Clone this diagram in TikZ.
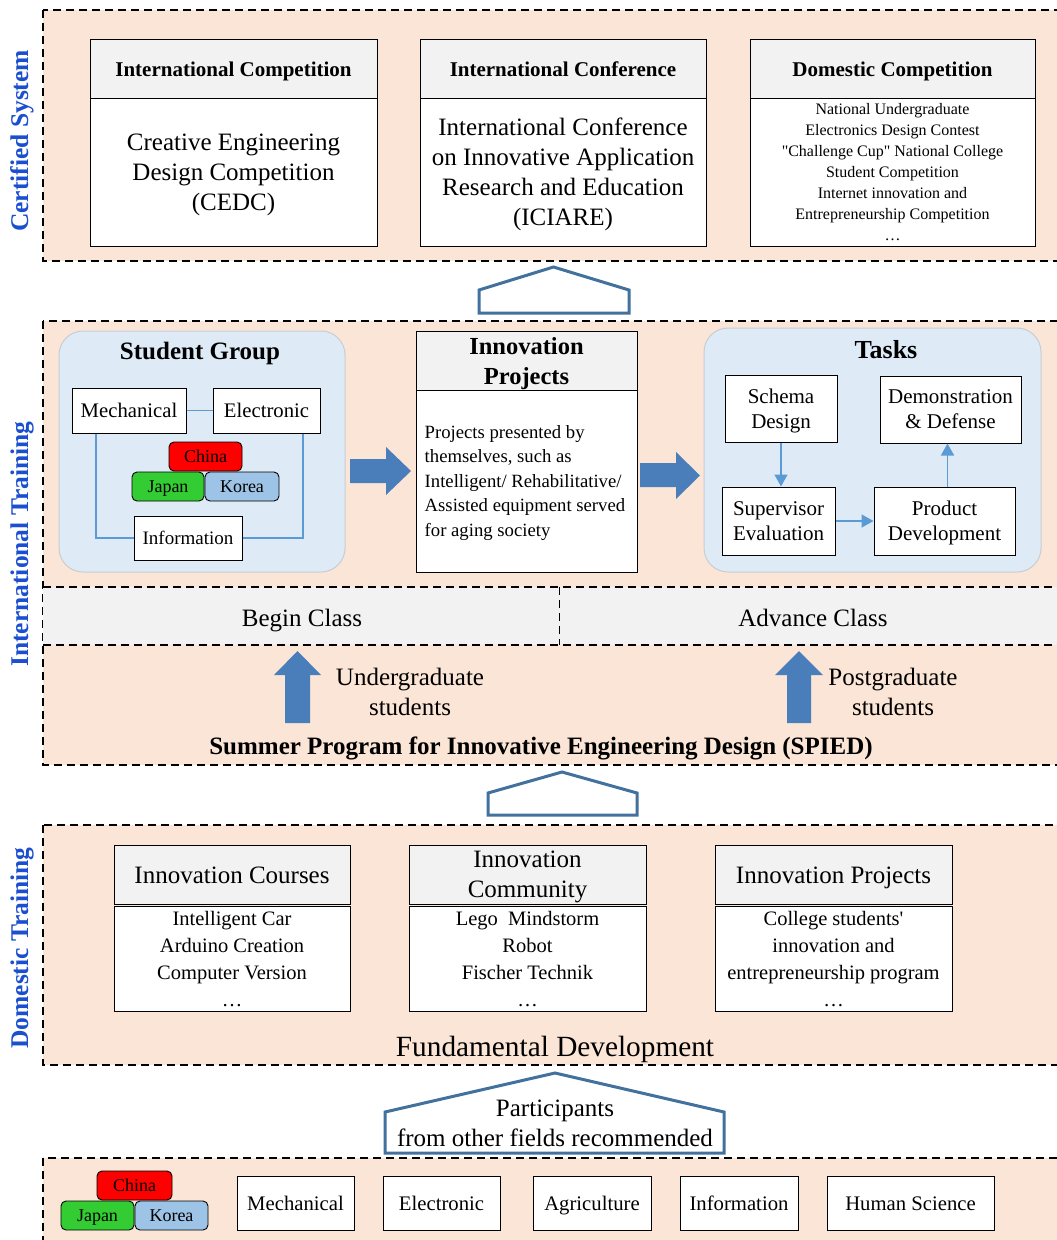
\documentclass[tikz,border=0pt]{standalone}
\usepackage{fontspec}
\setmainfont{Liberation Serif}
\usetikzlibrary{arrows.meta}

\definecolor{peach}{HTML}{FBE5D6}
\definecolor{grouphue}{HTML}{DEEBF7}
\definecolor{groupedge}{HTML}{C8CDD3}
\definecolor{hdrgray}{HTML}{F2F2F2}
\definecolor{arrowblue}{HTML}{4A7EBB}
\definecolor{roofblue}{HTML}{41719C}
\definecolor{linkblue}{HTML}{5B9BD5}
\definecolor{sideblue}{HTML}{1A4FD0}
\definecolor{chinared}{HTML}{FF0000}
\definecolor{japangreen}{HTML}{33CC33}
\definecolor{koreablue}{HTML}{9DC3E6}

\newcommand{\fsz}[2]{\fontsize{#1}{#2}\selectfont}

\begin{document}
\begin{tikzpicture}[x=1pt,y=-1pt,
  band/.style={draw=black,dash pattern=on 8pt off 5pt,line width=1.2pt},
  plainbox/.style={draw=black,line width=1pt,fill=white,inner sep=0pt,align=center},
  hdrbox/.style={draw=black,line width=1pt,fill=hdrgray,inner sep=0pt,align=center},
  oneline/.style={execute at begin node={\rule[-0.22em]{0pt}{1.16em}}},
  multi/.style={text depth=0pt},
  land/.style={draw=black,line width=0.9pt,rounded corners=5pt,inner sep=0pt,
    minimum height=29pt,font=\fsz{18}{20},oneline},
  grp/.style={draw=groupedge,line width=1pt,fill=grouphue,rounded corners=24pt,inner sep=0pt},
  link/.style={draw=linkblue,line width=1.6pt},
  flow/.style={link,-{Triangle[length=12pt,width=13pt]}},
  blockarrow/.style={fill=arrowblue,draw=none},
  roof/.style={draw=roofblue,line width=3pt,fill=white,line join=miter},
  sidelabel/.style={rotate=90,text=sideblue,font=\fsz{25.5}{28}\bfseries}
]
\clip (0,0) rectangle (1057,1240);
\fill[white] (0,0) rectangle (1057,1240);

% Certified System
\draw[band,fill=peach] (43,10) rectangle (1075,261);
\node[sidelabel] (lcert) at (22,141) {Certified System};

\node[hdrbox,oneline,minimum width=287pt,minimum height=59pt,font=\fsz{21}{24}\bfseries] (ich) at (233.5,68.5) {International Competition};
\node[plainbox,multi,minimum width=287pt,minimum height=148pt,font=\fsz{25}{30}] (icb) at (233.5,172) {Creative Engineering\\Design Competition\\(CEDC)};
\node[hdrbox,oneline,minimum width=286pt,minimum height=59pt,font=\fsz{21}{24}\bfseries] (cfh) at (563,68.5) {International Conference};
\node[plainbox,multi,minimum width=286pt,minimum height=148pt,font=\fsz{25}{30}] (cfb) at (563,172) {International Conference\\on Innovative Application\\Research and Education\\(ICIARE)};
\node[hdrbox,oneline,minimum width=285pt,minimum height=59pt,font=\fsz{21}{24}\bfseries] (dch) at (892.5,68.5) {Domestic Competition};
\node[plainbox,minimum width=285pt,minimum height=148pt,font=\fsz{16}{21}] (dcb) at (892.5,172) {National Undergraduate\\Electronics Design Contest\\\textquotedbl Challenge Cup\textquotedbl\ National College\\Student Competition\\Internet innovation and\\Entrepreneurship Competition\\\ldots};

\draw[roof] (479,313) -- (479,290) -- (553.5,267) -- (629,290) -- (629,313) -- cycle;

% International Training
\draw[band,fill=peach] (43,321) rectangle (1075,765);
\fill[hdrgray] (43,587) rectangle (1075,645);
\draw[band] (43,587) -- (1075,587);
\draw[band] (43,645) -- (1075,645);
\draw[band] (559.5,587) -- (559.5,645);
\node[sidelabel] (lintl) at (22,544) {International Training};

\node[grp,minimum width=286pt,minimum height=241pt] (sgroup) at (202,451.5) {};
\node[font=\fsz{25}{28}\bfseries] (sgtitle) at (200,353) {Student Group};
\node[plainbox,oneline,minimum width=114pt,minimum height=45pt,font=\fsz{20.7}{24}] (mech) at (129,410.5) {Mechanical};
\node[plainbox,oneline,minimum width=107pt,minimum height=45pt,font=\fsz{20.7}{24}] (elec) at (266.5,410.5) {Electronic};
\node[plainbox,oneline,minimum width=108pt,minimum height=44pt,font=\fsz{19}{22}] (info) at (188,538) {Information};
\node[land,fill=chinared,minimum width=73pt] (china) at (205.5,456.5) {China};
\node[land,fill=japangreen,minimum width=72pt] (japan) at (168,486.5) {Japan};
\node[land,fill=koreablue,minimum width=74pt] (korea) at (242,486.5) {Korea};
\draw[link] (mech) -- (elec);
\draw[link] ([xshift=-33pt]mech.south) |- (info.west);
\draw[link] ([xshift=36.5pt]elec.south) |- (info.east);

\fill[blockarrow] (350,459) -- (386,459) -- (386,447) -- (411,471) -- (386,495) -- (386,483) -- (350,483) -- cycle;

\node[hdrbox,multi,minimum width=221pt,minimum height=59pt,font=\fsz{24.5}{30}\bfseries] (iph) at (526.5,360.5) {Innovation\\Projects};
\node[plainbox,minimum width=221pt,minimum height=182pt] (ipb) at (526.5,481) {};
\node[anchor=west,align=left,inner sep=0pt,multi,font=\fsz{18.7}{24.5}] (iptext) at ([xshift=9pt]ipb.west) {Projects presented by\\themselves, such as\\Intelligent/ Rehabilitative/\\Assisted equipment served\\for aging society};

\fill[blockarrow] (640,463) -- (676,463) -- (676,452) -- (700,475.5) -- (676,499) -- (676,487) -- (640,487) -- cycle;

\node[grp,minimum width=337pt,minimum height=244pt] (tasks) at (872.5,450) {};
\node[font=\fsz{26}{28}\bfseries] (tktitle) at (886,350) {Tasks};
\node[plainbox,multi,minimum width=112pt,minimum height=67pt,font=\fsz{21}{25}] (schema) at (781,408.5) {Schema\\Design};
\node[plainbox,multi,minimum width=141pt,minimum height=67pt,font=\fsz{21}{25}] (demo) at (950.5,409.5) {Demonstration\\\& Defense};
\node[plainbox,multi,minimum width=113pt,minimum height=68pt,font=\fsz{21}{25}] (sup) at (778.5,521) {Supervisor\\Evaluation};
\node[plainbox,multi,minimum width=141pt,minimum height=68pt,font=\fsz{21}{25}] (prod) at (944.5,521) {Product\\Development};
\draw[flow] (schema.south) -- (schema.south |- sup.north);
\draw[flow] (sup.east) -- (prod.west);
\draw[flow] ([xshift=3pt]prod.north) -- ([xshift=3pt]prod.north |- demo.south);

\node[oneline,font=\fsz{25}{28}] (begin) at (302,617) {Begin Class};
\node[oneline,font=\fsz{25}{28}] (adv) at (813,617) {Advance Class};

\fill[blockarrow] (285,723) -- (285,675) -- (274,675) -- (297.5,651) -- (321,675) -- (310,675) -- (310,723) -- cycle;
\fill[blockarrow] (787,723) -- (787,675) -- (775,675) -- (799,651) -- (823,675) -- (811,675) -- (811,723) -- cycle;
\node[align=center,multi,font=\fsz{25}{30}] (under) at (410,692) {Undergraduate\\students};
\node[align=center,multi,font=\fsz{25}{30}] (post) at (893,692) {Postgraduate\\students};
\node[oneline,font=\fsz{25}{28}\bfseries] (spied) at (541,745) {Summer Program for Innovative Engineering Design (SPIED)};

\draw[roof] (488,815) -- (488,793) -- (562,772) -- (637,793) -- (637,815) -- cycle;

% Domestic Training
\draw[band,fill=peach] (43,825) rectangle (1075,1065);
\node[sidelabel] (ldom) at (22,948) {Domestic Training};

\node[hdrbox,oneline,minimum width=236pt,minimum height=59pt,font=\fsz{25}{30}] (crh) at (232,874.5) {Innovation Courses};
\node[plainbox,minimum width=236pt,minimum height=105pt,font=\fsz{20.5}{27}] (crb) at (232,959) {Intelligent Car\\Arduino Creation\\Computer Version\\\ldots};
\node[hdrbox,multi,minimum width=237pt,minimum height=59pt,font=\fsz{25}{30}] (cmh) at (527.5,874.5) {Innovation\\Community};
\node[plainbox,minimum width=237pt,minimum height=105pt,font=\fsz{20.5}{27}] (cmb) at (527.5,959) {Lego\ \ Mindstorm\\Robot\\Fischer Technik\\\ldots};
\node[hdrbox,oneline,minimum width=237pt,minimum height=59pt,font=\fsz{25}{30}] (pjh) at (833.5,874.5) {Innovation Projects};
\node[plainbox,minimum width=237pt,minimum height=105pt,font=\fsz{20.5}{27}] (pjb) at (833.5,959) {College students\textquotesingle\\innovation and\\entrepreneurship program\\\ldots};
\node[oneline,font=\fsz{29.3}{32}] (fund) at (555,1046) {Fundamental Development};

\draw[roof] (385,1153) -- (385,1112) -- (555,1073) -- (724,1112) -- (724,1153) -- cycle;
\node[align=center,multi,font=\fsz{25}{30}] (partic) at (555,1123) {Participants\\from other fields recommended};

% fields
\draw[band,fill=peach] (43,1158) rectangle (1075,1270);
\node[land,fill=chinared,minimum width=75pt] (chinab) at (134.5,1185.5) {China};
\node[land,fill=japangreen,minimum width=73pt] (japanb) at (97.5,1215.5) {Japan};
\node[land,fill=koreablue,minimum width=73pt] (koreab) at (171.5,1215.5) {Korea};
\node[plainbox,oneline,minimum width=117pt,minimum height=54pt,font=\fsz{20.7}{24}] (mechb) at (295.5,1203) {Mechanical};
\node[plainbox,oneline,minimum width=117pt,minimum height=54pt,font=\fsz{20.7}{24}] (elecb) at (441.5,1203) {Electronic};
\node[plainbox,oneline,minimum width=118pt,minimum height=54pt,font=\fsz{20.7}{24}] (agri) at (592,1203) {Agriculture};
\node[plainbox,oneline,minimum width=118pt,minimum height=54pt,font=\fsz{20.7}{24}] (infob) at (739,1203) {Information};
\node[plainbox,oneline,minimum width=167pt,minimum height=54pt,font=\fsz{20.7}{24}] (human) at (910.5,1203) {Human Science};
\end{tikzpicture}
\end{document}
